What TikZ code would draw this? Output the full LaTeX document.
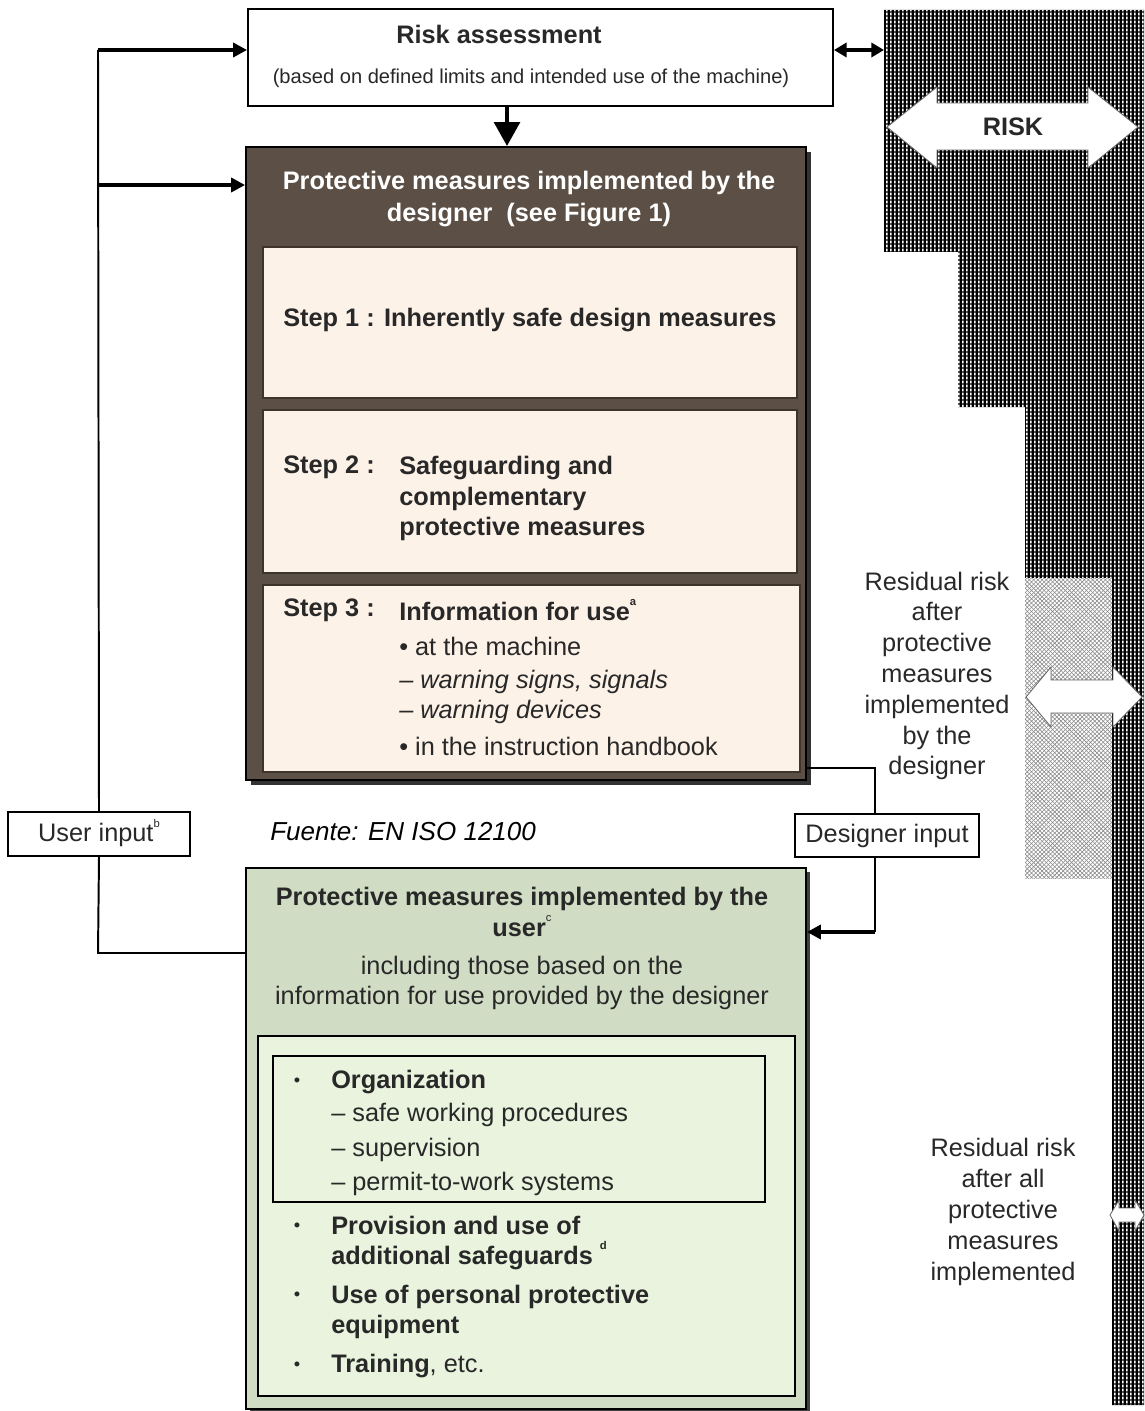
\documentclass[tikz,border=0pt]{standalone}
\usepackage{fontspec}
\setmainfont{Liberation Sans}
\usetikzlibrary{arrows.meta,positioning,fit,patterns}
\definecolor{designerbrown}{RGB}{92,80,70}
\definecolor{stepcream}{RGB}{253,242,232}
\definecolor{stepedge}{RGB}{62,52,44}
\definecolor{useroutergreen}{RGB}{208,220,196}
\definecolor{userinnergreen}{RGB}{233,243,221}
\definecolor{textgray}{RGB}{40,40,40}
\newcommand{\txtsize}{\fontsize{18}{21.3}\selectfont}
\newcommand{\supmark}[1]{\raisebox{1.1ex}{\fontsize{8}{8}\selectfont #1}}
\pgfdeclarepatternformonly{riskdashes}{\pgfpointorigin}{\pgfqpoint{2.8pt}{2.8pt}}{\pgfqpoint{2.8pt}{2.8pt}}%
  {\pgfpathrectangle{\pgfqpoint{0.8pt}{0.4pt}}{\pgfqpoint{1.1pt}{2pt}}\pgfusepath{fill}}

\begin{document}
\begin{tikzpicture}[x=0.025cm, y=-0.025cm,
    frame/.style={draw=black, line width=1.3pt, inner sep=0pt},
    stepbox/.style={draw=stepedge, line width=1.8pt, fill=stepcream, inner sep=0pt},
    label/.style={font=\txtsize, inner sep=0pt, text=textgray},
    bullet/.style={font=\fontsize{13}{13}\selectfont, inner sep=0pt, text=textgray},
    link/.style={line width=1.4pt},
    arrow/.style={-{Triangle[length=10pt,width=10pt]}, line width=2.6pt},
    bigarrow/.style={-{Triangle[length=17pt,width=18pt]}, line width=3.2pt},
    twoway/.style={{Triangle[length=9pt,width=10pt]}-{Triangle[length=9pt,width=10pt]}, line width=2.6pt},
    riskarrow/.style={fill=white, draw=black!60, line width=0.6pt}
]
\useasboundingbox (0,0) rectangle (1144,1411);

% Risk column
\fill[black, postaction={pattern=riskdashes, pattern color=white}]
    (884,10) -- (1144,10) -- (1144,1405) -- (1112,1405) -- (1112,578) -- (1025,578)
    -- (1025,407) -- (958,407) -- (958,252) -- (884,252) -- cycle;
\path[fill=white, postaction={pattern=crosshatch, pattern color=black!45}] (1025,578) rectangle (1112,878);
\filldraw[riskarrow] (887,127) -- (937,87) -- (937,103) -- (1088,103) -- (1088,87) -- (1138,127)
    -- (1088,168) -- (1088,150) -- (937,150) -- (937,168) -- cycle;
\node[label, font=\txtsize\bfseries] (risklabel) at (1013,127) {RISK};
\filldraw[riskarrow] (1026,697) -- (1051,667) -- (1051,680) -- (1113,680) -- (1113,667) -- (1142,697)
    -- (1113,727) -- (1113,713) -- (1051,713) -- (1051,727) -- cycle;
\filldraw[riskarrow] (1110,1215) -- (1119,1200) -- (1119,1208) -- (1135,1208) -- (1135,1200) -- (1144,1215)
    -- (1135,1231) -- (1135,1222) -- (1119,1222) -- (1119,1231) -- cycle;

\node[label, align=center, font=\fontsize{18}{21.9}\selectfont] (resdesigner) at (937,676)
    {Residual risk\\after\\protective\\measures\\implemented\\by the\\designer};
\node[label, align=center, font=\fontsize{18}{21.9}\selectfont] (resall) at (1003,1212)
    {Residual risk\\after all\\protective\\measures\\implemented};

% Risk assessment
\node[frame, fill=white, fit={(248,9) (833,106)}] (risk) {};
\node[label, font=\txtsize\bfseries] (risktitle) at (499,34) {Risk assessment};
\node[label, font=\fontsize{14.3}{16}\selectfont] (risksub) at (531,78)
    {(based on defined limits and intended use of the machine)};

% Designer measures
\fill[black!80] (251,152) rectangle (811,785);
\node[frame, fill=designerbrown, fit={(246,147) (806,780)}] (designer) {};
\node[label, text=white, font=\fontsize{18}{22.8}\selectfont\bfseries, align=center] (designertitle) at (529,199)
    {Protective measures implemented by the\\designer\ \ (see Figure 1)};

\node[stepbox, fit={(263,247) (797,398)}] (step1) {};
\node[label, font=\txtsize\bfseries, anchor=west] (step1text) at (283,320) {Step 1 : Inherently safe design measures};

\node[stepbox, fit={(263,410) (797,573)}] (step2) {};
\node[label, font=\txtsize\bfseries, anchor=west] (step2head) at (283,467) {Step 2 :};
\node[label, font=\fontsize{18}{21.7}\selectfont\bfseries, align=left, anchor=north west] (step2text) at (399,456)
    {Safeguarding and\\complementary\\protective measures};

\node[stepbox, fit={(263,585) (800,772)}] (step3) {};
\node[label, font=\txtsize\bfseries, anchor=west] (step3head) at (283,610) {Step 3 :};
\node[label, font=\txtsize\bfseries, anchor=west] (step3title) at (399,610) {Information for use\supmark{a}};
\node[label, align=left, anchor=north west] (step3text) at (399,637)
    {• at the machine\\[2.1pt]\textit{– warning signs, signals}\\\textit{– warning devices}\\[5pt]• in the instruction handbook};

% Inputs
\node[frame, fill=white, fit={(8,812) (190,856)}] (userin) {};
\node[label] (userintext) at (99,833) {User input\supmark{b}};
\node[label, text=black, font=\fontsize{18.5}{22}\selectfont\itshape, anchor=west] (source) at (270,832) {Fuente: EN ISO 12100};
\node[frame, fill=white, fit={(795,814) (979,857)}] (desin) {};
\node[label] (desintext) at (887,836) {Designer input};

% User measures
\fill[black!75] (250,872) rectangle (810,1415);
\node[frame, fill=useroutergreen, fit={(246,868) (806,1409)}] (user) {};
\node[label, align=center, anchor=north, font=\fontsize{18}{21.7}\selectfont] (usertitle) at (522,887)
    {\textbf{Protective measures implemented by the}\\\textbf{user}\supmark{c}\\[5.3pt]including those based on the\\information for use provided by the designer};
\node[frame, fill=userinnergreen, fit={(258,1036) (795,1396)}] (userinner) {};
\node[frame, line width=1.1pt, fit={(273,1056) (765,1202)}] (organization) {};

\node[bullet] (dot1) at (297,1082) {•};
\node[label, font=\txtsize\bfseries, anchor=west] (orgtitle) at (331,1082) {Organization};
\node[label, align=left, anchor=north west, font=\fontsize{18}{24.5}\selectfont] (orglist) at (331,1103)
    {– safe working procedures\\– supervision\\– permit-to-work systems};
\node[bullet] (dot2) at (297,1227) {•};
\node[label, align=left, anchor=north west, font=\txtsize\bfseries] (safeguards) at (331,1216)
    {Provision and use of\\additional safeguards \supmark{d}};
\node[bullet] (dot3) at (297,1296) {•};
\node[label, align=left, anchor=north west, font=\txtsize\bfseries] (ppe) at (331,1285)
    {Use of personal protective\\equipment};
\node[bullet] (dot4) at (297,1366) {•};
\node[label, anchor=west] (training) at (331,1366) {\textbf{Training}, etc.};

% Connectors
\coordinate (usertop) at (98,50);
\coordinate (usermid) at (98,185);
\coordinate (userlow) at (98,953);
\coordinate (downfrom) at (507,106);
\coordinate (riskedge) at (884,50);
\coordinate (desjoint) at (875,768);
\coordinate (desbend) at (875,932);

\draw[link] (userin.north) -- (usertop);
\draw[arrow] (usertop) -- (usertop -| risk.west);
\draw[arrow] (usermid) -- (usermid -| designer.west);
\draw[link] (userin.south) -- (userlow) -- (userlow -| user.west);
\draw[bigarrow] (downfrom) -- (downfrom |- designer.north);
\draw[twoway] (riskedge -| risk.east) -- (riskedge);
\draw[link] (desjoint -| designer.east) -- (desjoint) -- (desjoint |- desin.north);
\draw[link] (desbend |- desin.south) -- (desbend);
\draw[arrow] (desbend) -- (desbend -| user.east);
\end{tikzpicture}
\end{document}
